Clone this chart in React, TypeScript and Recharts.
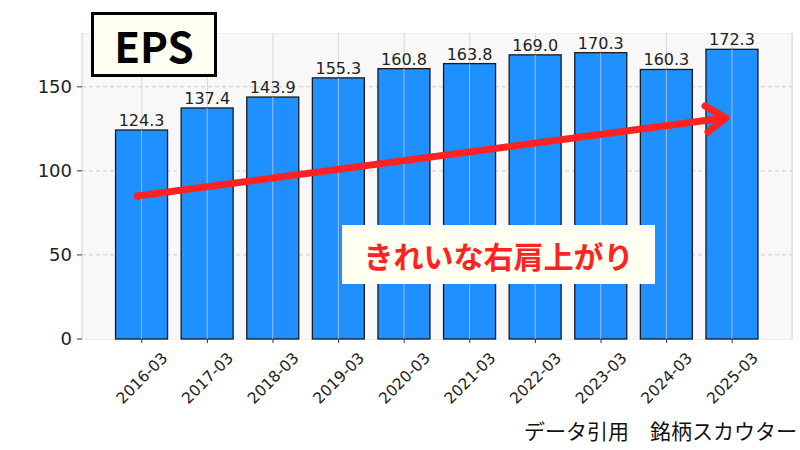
import React from "react"
import { BarChart, Bar, XAxis, YAxis, CartesianGrid, LabelList } from "recharts"

const periods = ["2016-03", "2017-03", "2018-03", "2019-03", "2020-03", "2021-03", "2022-03", "2023-03", "2024-03", "2025-03"]
const eps = [124.3, 137.4, 143.9, 155.3, 160.8, 163.8, 169.0, 170.3, 160.3, 172.3]
const yTicks = [0, 50, 100, 150]

const data = periods.map((period, i) => ({ period, eps: eps[i] }))

const NUM_FONT = "'DejaVu Sans', sans-serif"
const JP_FONT = "'Noto Sans CJK JP', 'Noto Sans', sans-serif"

function XTick(props: any) {
  const { x, y, payload } = props
  return (
    <g transform={`translate(${x},${y + 33})`}>
      <text
        transform="rotate(-45)"
        textAnchor="middle"
        dy="0.35em"
        fontSize={15.5}
        fontFamily={NUM_FONT}
        fill="#222"
      >
        {payload.value}
      </text>
    </g>
  )
}

// bar with the vertical grid line drawn over it, like the original
function BarWithGrid(props: any) {
  const { x, y, width, height } = props
  return (
    <g>
      <rect x={x} y={y} width={width} height={height} fill="#1e90ff" stroke="#1a1a1a" strokeWidth={1.3} />
      <line x1={x + width / 2} x2={x + width / 2} y1={y} y2={y + height} stroke="#cccccc" strokeOpacity={0.75} />
    </g>
  )
}

export default function App() {
  return (
    <div style={{ position: "absolute", left: 0, top: 0, width: 800, height: 450, background: "#fff" }}>
      <div
        style={{
          position: "absolute",
          left: 82,
          top: 33,
          width: 709,
          height: 305,
          background: "#f8f8f8",
          border: "1px solid #efefef",
        }}
      />
      <BarChart
        width={800}
        height={450}
        data={data}
        barCategoryGap="10%"
        margin={{ top: 33, right: 8, left: 0, bottom: 0 }}
      >
        <CartesianGrid vertical={false} horizontalValues={[50, 100, 150]} stroke="#cccccc" strokeDasharray="4 3" />
        <CartesianGrid horizontal={false} stroke="#cccccc" strokeOpacity={0.75} />
        <XAxis
          dataKey="period"
          height={111}
          padding={{ left: 27, right: 27 }}
          axisLine={false}
          tickSize={4}
          tickLine={{ stroke: "#333" }}
          tick={<XTick />}
          interval={0}
        />
        <YAxis
          width={82}
          domain={[0, 182]}
          ticks={yTicks}
          axisLine={false}
          tickSize={5}
          tickMargin={5}
          tickLine={{ stroke: "#333" }}
          tick={{ fontSize: 18, fontFamily: NUM_FONT, fill: "#222" }}
        />
        <Bar dataKey="eps" shape={<BarWithGrid />} isAnimationActive={false}>
          <LabelList
            dataKey="eps"
            position="top"
            offset={4}
            formatter={(v: any) => Number(v).toFixed(1)}
            style={{ fontSize: 16, fontFamily: NUM_FONT, fill: "#222" }}
          />
        </Bar>
      </BarChart>

      <svg width={800} height={450} style={{ position: "absolute", left: 0, top: 0, pointerEvents: "none" }}>
        <g stroke="#ff2222" strokeWidth={7} strokeLinecap="round" fill="none">
          <line x1={137} y1={196} x2={724} y2={118} />
          <polyline points="705,106 726,118 708,132" strokeLinejoin="round" />
        </g>
      </svg>

      <div
        style={{
          position: "absolute",
          left: 91,
          top: 12,
          width: 120,
          height: 59,
          border: "3px solid #000",
          background: "#fffff2",
          display: "flex",
          alignItems: "center",
          justifyContent: "center",
          fontFamily: JP_FONT,
          fontWeight: 700,
          fontSize: 42,
          color: "#000",
        }}
      >
        EPS
      </div>

      <div
        style={{
          position: "absolute",
          left: 342,
          top: 225,
          width: 313,
          height: 59,
          background: "#fffff2",
          display: "flex",
          alignItems: "center",
          justifyContent: "center",
          fontFamily: JP_FONT,
          fontWeight: 700,
          fontSize: 30,
          color: "#ff2222",
        }}
      >
        きれいな右肩上がり
      </div>

      <div
        style={{
          position: "absolute",
          right: 3,
          top: 415,
          fontFamily: JP_FONT,
          fontSize: 21,
          color: "#111",
          whiteSpace: "pre",
        }}
      >
        データ引用　銘柄スカウター
      </div>
    </div>
  )
}
